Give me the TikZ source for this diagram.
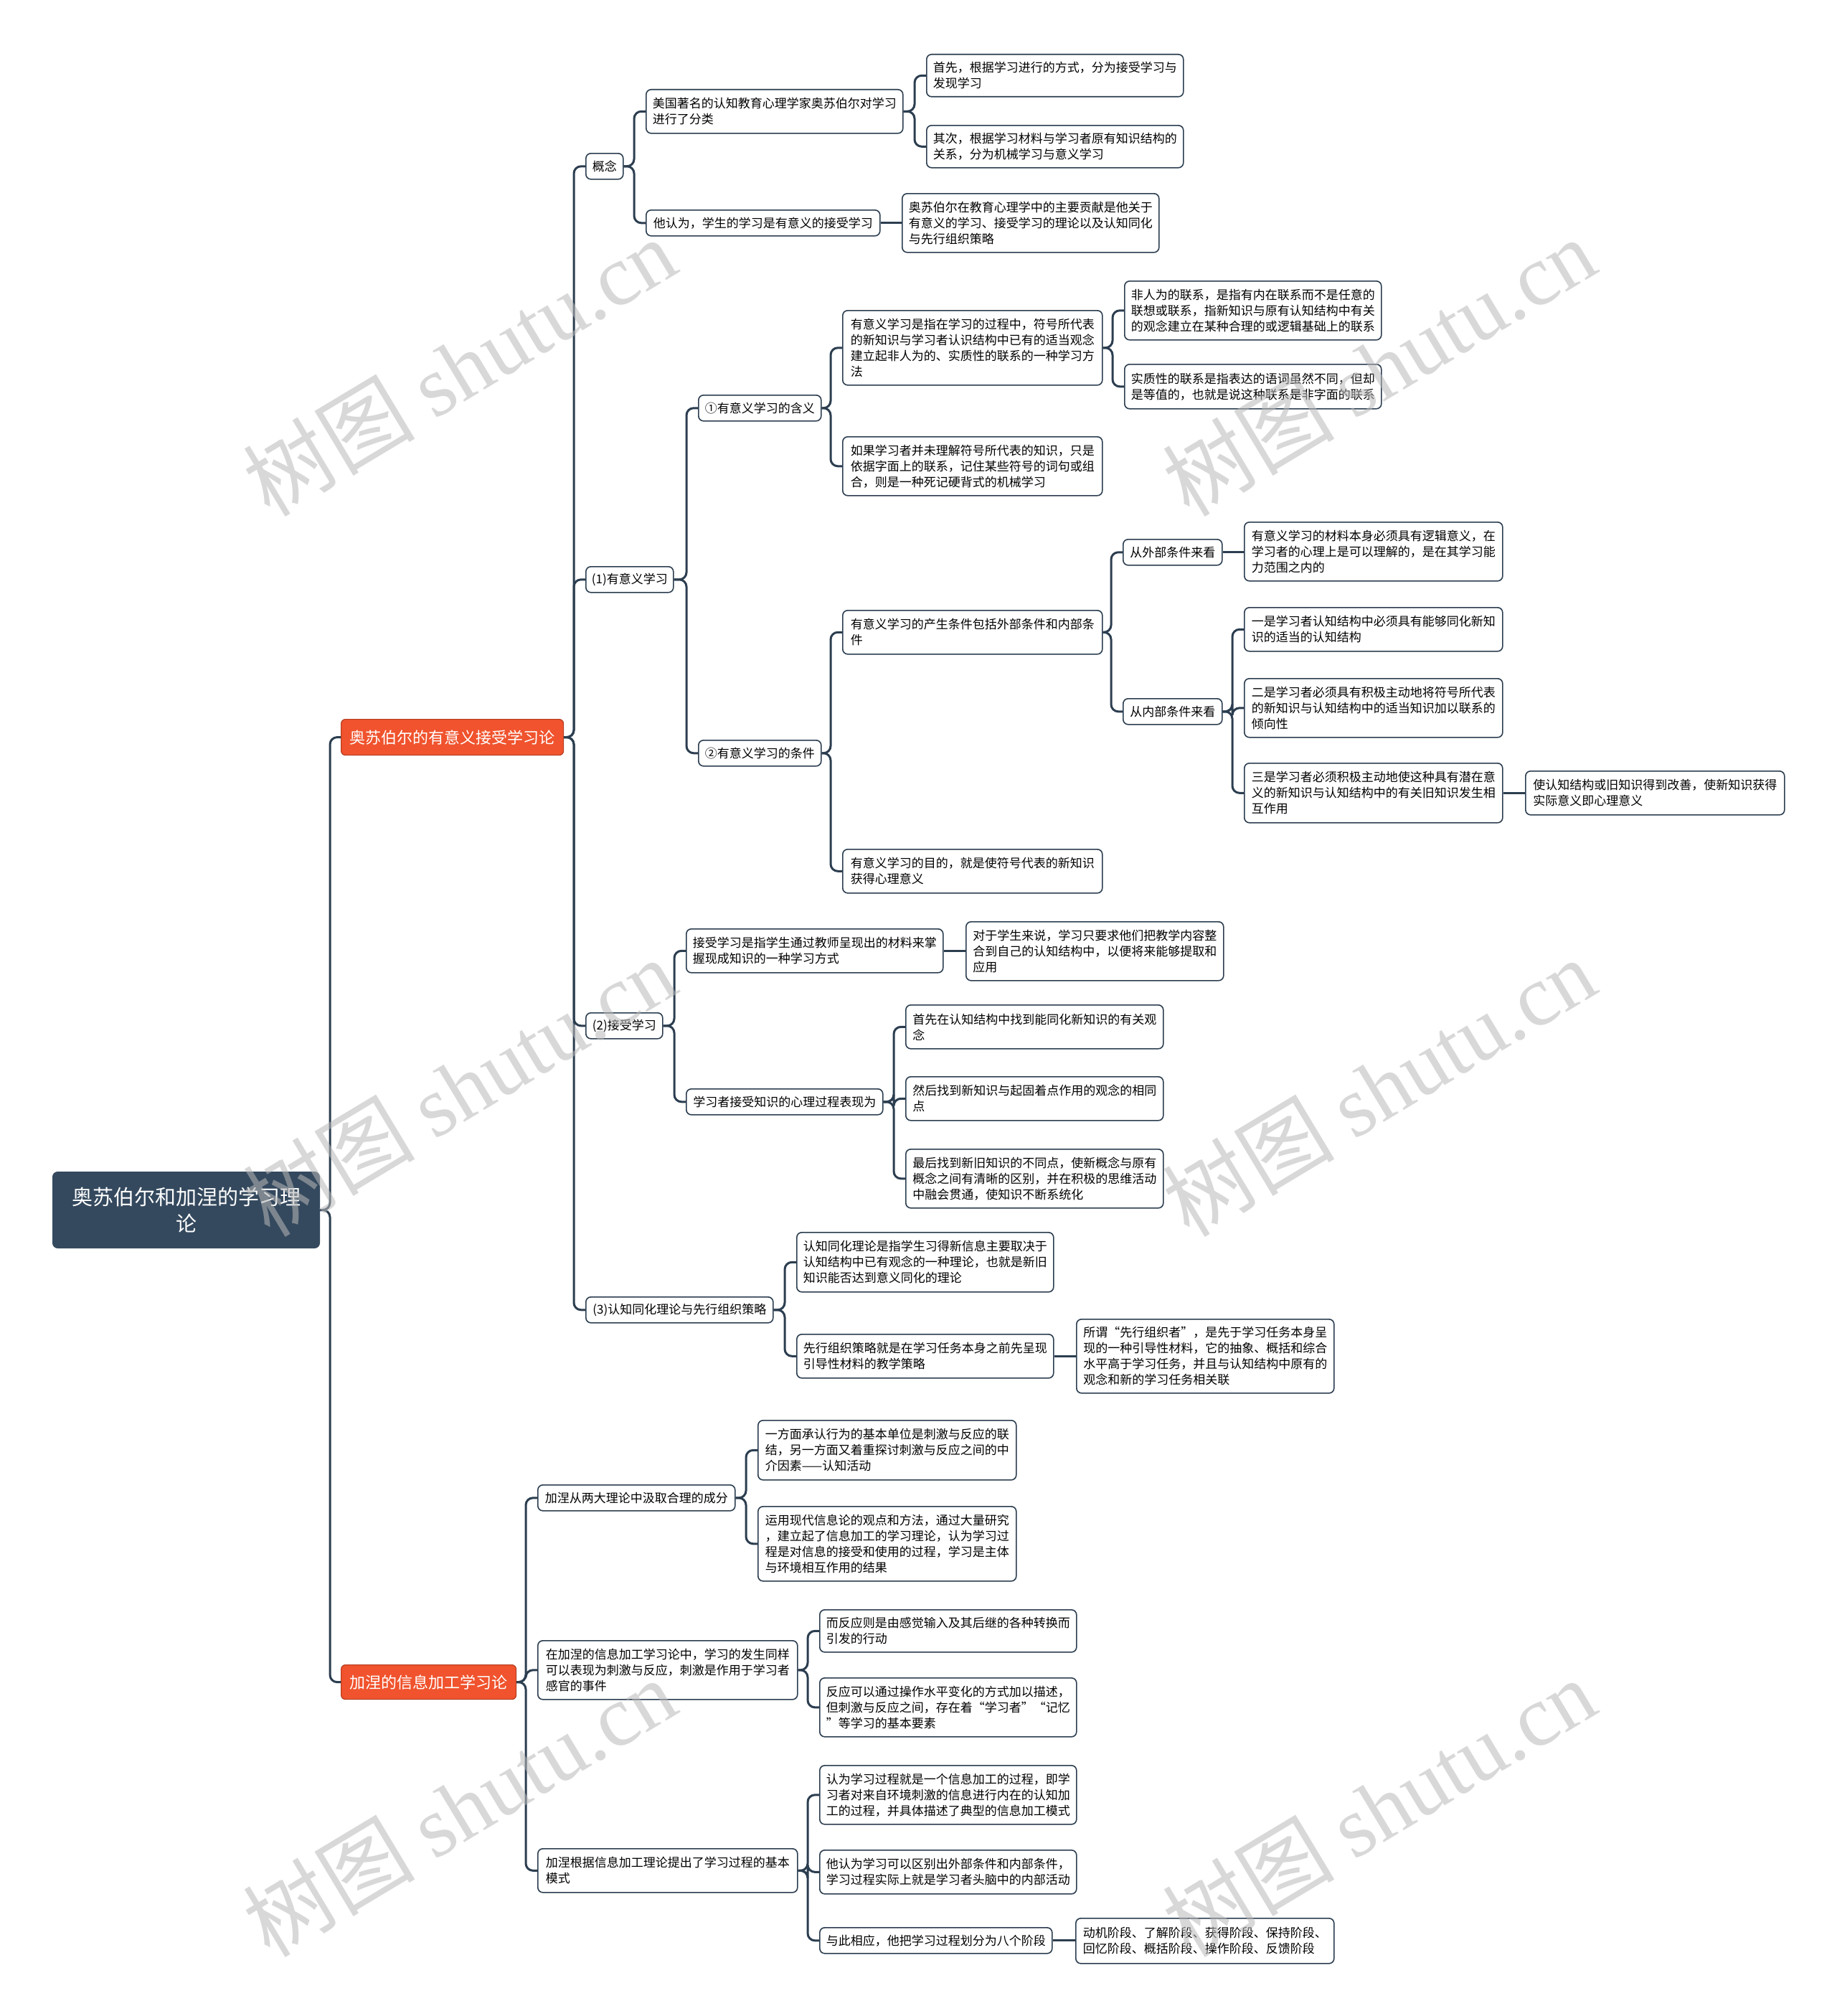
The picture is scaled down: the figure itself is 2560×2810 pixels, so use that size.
\documentclass[tikz,border=0pt]{standalone}
\usepackage{fontspec}
\setmainfont{Noto Sans CJK SC}
\newfontfamily\wmserif{Liberation Serif}
\usetikzlibrary{calc}
\definecolor{linec}{HTML}{2C3E50}
\definecolor{rootc}{HTML}{34495E}
\definecolor{mainc}{HTML}{F0532D}
\tikzset{
  conn/.style={draw=linec, line width=3pt, rounded corners=10pt},
  box/.style={draw=linec, line width=1.6pt, fill=white, rounded corners=7pt,
    anchor=north west, align=left, inner xsep=8pt, inner ysep=0pt,
    font=\fontsize{17}{22}\selectfont},
  rootbox/.style={draw=rootc, line width=1pt, fill=rootc, text=white, rounded corners=7pt,
    anchor=north west, align=center, inner sep=0pt,
    font=\fontsize{29}{37}\selectfont},
  mainbox/.style={draw=mainc!75!black, line width=1.2pt, fill=mainc, text=white, rounded corners=6pt,
    anchor=north west, align=center, inner sep=0pt,
    font=\fontsize{22}{26}\selectfont},
  wm/.style={text=gray!55, text opacity=0.55, rotate=31, inner sep=0pt,
    font=\fontsize{120}{120}\selectfont}
}
\newcommand\mybox[6]{\node[box,minimum width=#4pt,minimum height=#5pt] (#1) at (#2,#3) {#6};}
\newcommand\link[2]{\draw[conn] (#1.east) -| ([xshift=-16pt]#2.west) -- (#2.west);}
\newcommand\slink[2]{\draw[conn] (#1.east) -- (#1.east -| #2.west);}
\begin{document}
\begin{tikzpicture}[x=1pt,y=-1pt]
\fill[white] (0,0) rectangle (2560,2810);
\useasboundingbox (0,0) rectangle (2560,2810);

% root and main branches
\node[rootbox, minimum width=372pt, minimum height=106pt] (root) at (73,1633) {奥苏伯尔和加涅的学习理\\论};
\node[mainbox, minimum width=310pt, minimum height=50pt] (M1) at (475,1002) {奥苏伯尔的有意义接受学习论};
\node[mainbox, minimum width=244pt, minimum height=48pt] (M2) at (475,2320) {加涅的信息加工学习论};

% level 2 (branch 1)
\mybox{a1}{816}{213}{52}{36}{概念}
\mybox{a2}{816}{789}{122}{36}{(1)有意义学习}
\mybox{a3}{816}{1411}{107}{36}{(2)接受学习}
\mybox{a4}{816}{1807}{261}{36}{(3)认知同化理论与先行组织策略}

% 概念
\mybox{b1}{900}{124}{358}{61}{美国著名的认知教育心理学家奥苏伯尔对学习\\进行了分类}
\mybox{b2}{900}{292}{326}{36}{他认为，学生的学习是有意义的接受学习}
\mybox{c1}{1291}{75}{358}{59}{首先，根据学习进行的方式，分为接受学习与\\发现学习}
\mybox{c2}{1291}{174}{358}{59}{其次，根据学习材料与学习者原有知识结构的\\关系，分为机械学习与意义学习}
\mybox{c3}{1257}{269}{358}{82}{奥苏伯尔在教育心理学中的主要贡献是他关于\\有意义的学习、接受学习的理论以及认知同化\\与先行组织策略}

% (1) 有意义学习
\mybox{d1}{973}{550}{171}{36}{①有意义学习的含义}
\mybox{d2}{973}{1031}{171}{36}{②有意义学习的条件}
\mybox{e1}{1174}{432}{362}{104}{有意义学习是指在学习的过程中，符号所代表\\的新知识与学习者认识结构中已有的适当观念\\建立起非人为的、实质性的联系的一种学习方\\法}
\mybox{e2}{1174}{608}{362}{82}{如果学习者并未理解符号所代表的知识，只是\\依据字面上的联系，记住某些符号的词句或组\\合，则是一种死记硬背式的机械学习}
\mybox{f1}{1567}{391}{358}{82}{非人为的联系，是指有内在联系而不是任意的\\联想或联系，指新知识与原有认知结构中有关\\的观念建立在某种合理的或逻辑基础上的联系}
\mybox{f2}{1567}{507}{358}{62}{实质性的联系是指表达的语词虽然不同，但却\\是等值的，也就是说这种联系是非字面的联系}
\mybox{g1}{1174}{850}{362}{61}{有意义学习的产生条件包括外部条件和内部条\\件}
\mybox{g2}{1174}{1183}{362}{61}{有意义学习的目的，就是使符号代表的新知识\\获得心理意义}
\mybox{h1}{1565}{751}{138}{36}{从外部条件来看}
\mybox{h2}{1565}{973}{138}{36}{从内部条件来看}
\mybox{i1}{1734}{727}{360}{82}{有意义学习的材料本身必须具有逻辑意义，在\\学习者的心理上是可以理解的，是在其学习能\\力范围之内的}
\mybox{i2}{1734}{846}{360}{61}{一是学习者认知结构中必须具有能够同化新知\\识的适当的认知结构}
\mybox{i3}{1734}{945}{360}{82}{二是学习者必须具有积极主动地将符号所代表\\的新知识与认知结构中的适当知识加以联系的\\倾向性}
\mybox{i4}{1734}{1063}{360}{83}{三是学习者必须积极主动地使这种具有潜在意\\义的新知识与认知结构中的有关旧知识发生相\\互作用}
\mybox{j1}{2126}{1074}{361}{61}{使认知结构或旧知识得到改善，使新知识获得\\实际意义即心理意义}

% (2) 接受学习
\mybox{k1}{956}{1294}{358}{61}{接受学习是指学生通过教师呈现出的材料来掌\\握现成知识的一种学习方式}
\mybox{k2}{956}{1517}{274}{36}{学习者接受知识的心理过程表现为}
\mybox{l1}{1346}{1284}{359}{82}{对于学生来说，学习只要求他们把教学内容整\\合到自己的认知结构中，以便将来能够提取和\\应用}
\mybox{l2}{1262}{1400}{359}{61}{首先在认知结构中找到能同化新知识的有关观\\念}
\mybox{l3}{1262}{1500}{359}{61}{然后找到新知识与起固着点作用的观念的相同\\点}
\mybox{l4}{1262}{1601}{359}{82}{最后找到新旧知识的不同点，使新概念与原有\\概念之间有清晰的区别，并在积极的思维活动\\中融会贯通，使知识不断系统化}

% (3)
\mybox{m1}{1110}{1717}{358}{83}{认知同化理论是指学生习得新信息主要取决于\\认知结构中已有观念的一种理论，也就是新旧\\知识能否达到意义同化的理论}
\mybox{m2}{1110}{1859}{358}{61}{先行组织策略就是在学习任务本身之前先呈现\\引导性材料的教学策略}
\mybox{n1}{1500}{1838}{359}{103}{所谓“先行组织者”，是先于学习任务本身呈\\现的一种引导性材料，它的抽象、概括和综合\\水平高于学习任务，并且与认知结构中原有的\\观念和新的学习任务相关联}

% branch 2
\mybox{p1}{749}{2069}{275}{36}{加涅从两大理论中汲取合理的成分}
\mybox{p2}{749}{2286}{362}{82}{在加涅的信息加工学习论中，学习的发生同样\\可以表现为刺激与反应，刺激是作用于学习者\\感官的事件}
\mybox{p3}{749}{2576}{362}{61}{加涅根据信息加工理论提出了学习过程的基本\\模式}
\mybox{q1}{1056}{1979}{360}{83}{一方面承认行为的基本单位是刺激与反应的联\\结，另一方面又着重探讨刺激与反应之间的中\\介因素——认知活动}
\mybox{q2}{1056}{2099}{360}{104}{运用现代信息论的观点和方法，通过大量研究\\，建立起了信息加工的学习理论，认为学习过\\程是对信息的接受和使用的过程，学习是主体\\与环境相互作用的结果}
\mybox{r1}{1142}{2243}{358}{59}{而反应则是由感觉输入及其后继的各种转换而\\引发的行动}
\mybox{r2}{1142}{2338}{358}{82}{反应可以通过操作水平变化的方式加以描述，\\但刺激与反应之间，存在着“学习者”“记忆\\”等学习的基本要素}
\mybox{s1}{1142}{2460}{358}{82}{认为学习过程就是一个信息加工的过程，即学\\习者对来自环境刺激的信息进行内在的认知加\\工的过程，并具体描述了典型的信息加工模式}
\mybox{s2}{1142}{2578}{358}{61}{他认为学习可以区别出外部条件和内部条件，\\学习过程实际上就是学习者头脑中的内部活动}
\mybox{s3}{1142}{2686}{324}{36}{与此相应，他把学习过程划分为八个阶段}
\mybox{t1}{1499}{2673}{360}{63}{动机阶段、了解阶段、获得阶段、保持阶段、\\回忆阶段、概括阶段、操作阶段、反馈阶段}

% connectors
\draw[conn] (root.east) -| ([xshift=-15pt]M1.west) -- (M1.west);
\draw[conn] (root.east) -| ([xshift=-15pt]M2.west) -- (M2.west);
\link{M1}{a1}\link{M1}{a2}\link{M1}{a3}\link{M1}{a4}
\link{a1}{b1}\link{a1}{b2}
\link{b1}{c1}\link{b1}{c2}\slink{b2}{c3}
\link{a2}{d1}\link{a2}{d2}
\link{d1}{e1}\link{d1}{e2}
\link{e1}{f1}\link{e1}{f2}
\link{d2}{g1}\link{d2}{g2}
\link{g1}{h1}\link{g1}{h2}
\slink{h1}{i1}\link{h2}{i2}\link{h2}{i3}\link{h2}{i4}
\slink{i4}{j1}
\link{a3}{k1}\link{a3}{k2}
\slink{k1}{l1}\link{k2}{l2}\link{k2}{l3}\link{k2}{l4}
\link{a4}{m1}\link{a4}{m2}\slink{m2}{n1}
\link{M2}{p1}\link{M2}{p2}\link{M2}{p3}
\link{p1}{q1}\link{p1}{q2}
\link{p2}{r1}\link{p2}{r2}
\link{p3}{s1}\link{p3}{s2}\link{p3}{s3}
\slink{s3}{t1}

% watermarks
\foreach \wx/\wy [count=\wi] in {640/511,1922/511,640/1515,1922/1515,640/2519,1922/2519}
  \node[wm] (wm\wi) at (\wx,\wy) {树图 {\wmserif shutu.cn}};
\end{tikzpicture}
\end{document}
